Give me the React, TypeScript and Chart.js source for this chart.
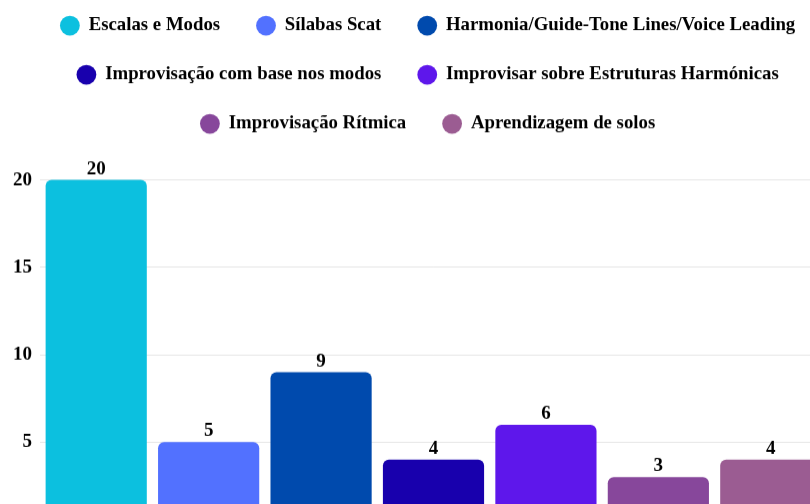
import React, { useEffect, useRef } from "react";
import { Chart, registerables } from "chart.js";

Chart.register(...registerables);

const categories = [
  "Escalas e Modos",
  "Sílabas Scat",
  "Harmonia/Guide-Tone Lines/Voice Leading",
  "Improvisação com base nos modos",
  "Improvisar sobre Estruturas Harmónicas",
  "Improvisação Rítmica",
  "Aprendizagem de solos",
];
const values = [20, 5, 9, 4, 6, 3, 4];
const colors = ["#0CC0DF", "#5271FF", "#004AAD", "#1800AD", "#5E17EB", "#87479B", "#9B5C92"];
const yTicks = [0, 5, 10, 15, 20];
const yMax = 22;

const FONT = "'Liberation Serif', 'Times New Roman', serif";
const L = 5;
const T = -13.6;
const W = 852;
const H = 562.7;

export default function App() {
  const ref = useRef<HTMLCanvasElement | null>(null);
  useEffect(() => {
    if (!ref.current) return;
    const valueLabels = {
      id: "valueLabels",
      afterDatasetsDraw(chart: any) {
        const { ctx } = chart;
        const meta = chart.getDatasetMeta(0);
        ctx.save();
        ctx.font = `bold 19px ${FONT}`;
        ctx.fillStyle = "#000";
        ctx.textAlign = "center";
        ctx.textBaseline = "alphabetic";
        meta.data.forEach((bar: any, i: number) => {
          ctx.fillText(String(values[i]), bar.x, bar.y - 6);
        });
        ctx.restore();
      },
    };
    const legendGap = {
      id: "legendGap",
      beforeInit(chart: any) {
        const lg = chart.legend;
        if (!lg) return;
        const fit = lg.fit;
        lg.fit = function () {
          fit.call(this);
          this.height += 1.7;
        };
      },
    };
    const chart = new Chart(ref.current, {
      type: "bar",
      data: {
        labels: categories,
        datasets: [
          {
            data: values,
            backgroundColor: colors,
            borderRadius: 6,
            borderSkipped: "start",
            barPercentage: 0.9,
            categoryPercentage: 1,
          },
        ],
      },
      options: {
        responsive: false,
        animation: false,
        layout: { padding: 0 },
        plugins: {
          tooltip: { enabled: false },
          legend: {
            position: "top",
            labels: {
              usePointStyle: true,
              boxWidth: 19,
              boxHeight: 14,
              padding: 30.2,
              color: "#000",
              font: { family: FONT, size: 18.8, weight: "bold" },
              generateLabels: () =>
                categories.map((c, i) => ({
                  text: c + "\u2004",
                  fillStyle: colors[i],
                  strokeStyle: colors[i],
                  lineWidth: 0,
                  pointStyle: "circle",
                  hidden: false,
                  index: i,
                  fontColor: "#000",
                })),
            },
          },
        },
        scales: {
          x: { display: false },
          y: {
            min: 0,
            max: yMax,
            bounds: "data",
            afterBuildTicks: (s: any) => {
              s.ticks = yTicks.map((v) => ({ value: v }));
            },
            ticks: {
              stepSize: 5,
              includeBounds: false,
              padding: 8,
              color: "#000",
              font: { family: FONT, size: 19, weight: "bold" },
            },
            grid: { drawTicks: false, color: "rgba(0,0,0,0.1)" },
            border: { display: false },
          },
          y2: {
            position: "right",
            grid: { display: false, drawTicks: false },
            ticks: { display: false },
            border: { display: false },
            afterFit: (s: any) => {
              s.width = 30;
            },
          },
        },
      },
      plugins: [valueLabels, legendGap],
    });
    return () => chart.destroy();
  }, []);
  return (
    <div style={{ position: "fixed", left: 0, top: 0, width: 810, height: 504, overflow: "hidden", background: "#fff" }}>
      <canvas ref={ref} width={W} height={H} style={{ position: "absolute", left: L, top: T, width: W, height: H }} />
    </div>
  );
}
